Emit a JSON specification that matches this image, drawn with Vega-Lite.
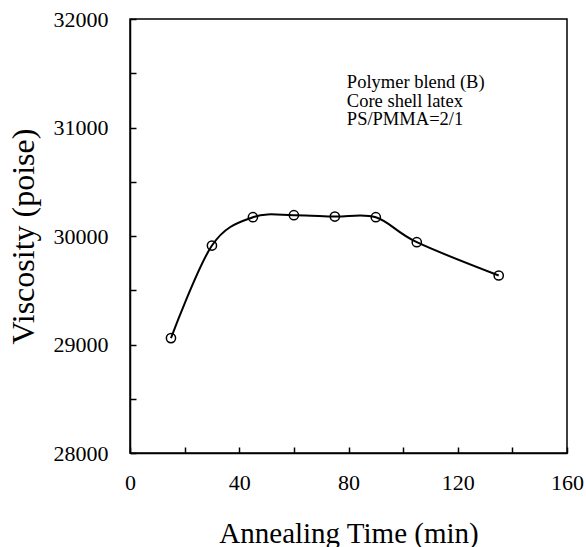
{
  "$schema": "https://vega.github.io/schema/vega-lite/v6.json",
  "width": 437,
  "height": 434,
  "autosize": {"type": "none"},
  "padding": {"left": 130, "top": 19, "right": 19, "bottom": 94},
  "background": "white",
  "config": {
    "view": {"stroke": "black", "strokeWidth": 1.5},
    "font": "Liberation Serif",
    "axis": {
      "labelFont": "Liberation Serif",
      "titleFont": "Liberation Serif",
      "labelColor": "black",
      "titleColor": "black",
      "titleFontWeight": "normal",
      "domainColor": "black",
      "domainWidth": 1.5,
      "tickColor": "black",
      "tickWidth": 1.5,
      "grid": false
    }
  },
  "datasets": {
    "pts": [
      {"time": 15, "viscosity": 29059},
      {"time": 30, "viscosity": 29912},
      {"time": 45, "viscosity": 30173},
      {"time": 60, "viscosity": 30192},
      {"time": 75, "viscosity": 30179},
      {"time": 90, "viscosity": 30173},
      {"time": 105, "viscosity": 29943},
      {"time": 135, "viscosity": 29636}
    ],
    "notes": [
      {"time": 79.4, "viscosity": 31364, "label": "Polymer blend (B)\nCore shell latex\nPS/PMMA=2/1"}
    ]
  },
  "layer": [
    {
      "data": {"name": "pts"},
      "mark": {"type": "line", "interpolate": "cardinal", "color": "black", "strokeWidth": 2},
      "encoding": {
        "x": {
          "field": "time", "type": "quantitative",
          "scale": {"domain": [0, 160], "nice": false},
          "axis": {
            "values": [0,10,20,30,40,50,60,70,80,90,100,110,120,130,140,150,160],
            "labelExpr": "datum.value % 40 === 0 ? datum.label : ''",
            "tickSize": -6,
            "labelPadding": 25,
            "labelFontSize": 22,
            "labelFlush": false,
            "title": "Annealing Time (min)",
            "titleFontSize": 29,
            "titlePadding": 26
          }
        },
        "y": {
          "field": "viscosity", "type": "quantitative",
          "scale": {"domain": [28000, 32000], "nice": false, "zero": false},
          "axis": {
            "values": [28000,28250,28500,28750,29000,29250,29500,29750,30000,30250,30500,30750,31000,31250,31500,31750,32000],
            "labelExpr": "datum.value % 1000 === 0 ? replace(datum.label, ',', '') : ''",
            "tickSize": -6,
            "labelPadding": 28,
            "labelFontSize": 22,
            "labelFlush": false,
            "title": "Viscosity (poise)",
            "titleFontSize": 32,
            "titlePadding": 13
          }
        }
      }
    },
    {
      "data": {"name": "pts"},
      "mark": {"type": "point", "shape": "circle", "filled": false, "color": "black", "size": 85, "strokeWidth": 1.5, "opacity": 1},
      "encoding": {
        "x": {"field": "time", "type": "quantitative"},
        "y": {"field": "viscosity", "type": "quantitative"}
      }
    },
    {
      "data": {"name": "notes"},
      "mark": {"type": "text", "align": "left", "baseline": "alphabetic", "font": "Liberation Serif", "fontSize": 18.5, "lineBreak": "\n", "lineHeight": 18.5, "color": "black"},
      "encoding": {
        "x": {"field": "time", "type": "quantitative"},
        "y": {"field": "viscosity", "type": "quantitative"},
        "text": {"field": "label"}
      }
    }
  ]
}
